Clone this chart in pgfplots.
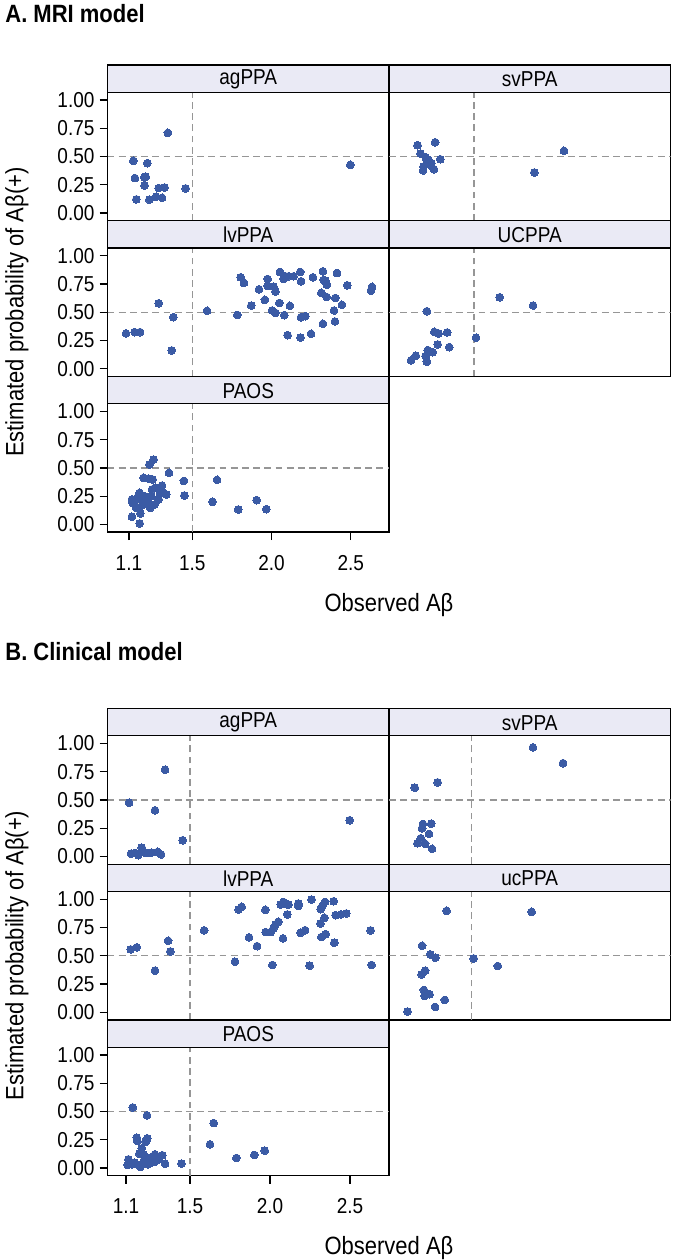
\documentclass[border=0pt]{standalone}
\usepackage{pgfplots}
\pgfplotsset{compat=1.18}
\usepackage{fontspec}
\setmainfont{Liberation Sans}[FakeStretch=0.88]
\definecolor{ptblue}{RGB}{59,91,165}
\definecolor{stripbg}{RGB}{234,234,245}
\definecolor{dashgray}{RGB}{150,150,150}
\newcommand{\tickfont}{\fontsize{10.8}{12}\selectfont}
\newcommand{\labfont}{\fontsize{12.5}{14}\selectfont}
\pgfplotsset{
  panel/.style={
    scale only axis, width=140.75pt, height=64.2pt, anchor=north west,
    ymin=-0.068, ymax=1.068,
    axis line style={line width=0.65pt, black},
    tick style={line width=0.65pt, black},
    major tick length=4pt,
    tick align=outside, tick pos=left,
    xtick=\empty, ytick=\empty,
    ticklabel style={font=\tickfont},
    yticklabel style={xshift=1pt},
  },
  panelA/.style={panel, xmin=0.965, xmax=2.741},
  panelB/.style={panel, xmin=0.984, xmax=2.744},
  yt/.style={ytick={0,0.25,0.5,0.75,1}, yticklabels={0.00,0.25,0.50,0.75,1.00}},
  xt/.style={xtick={1.1,1.5,2,2.5}, xticklabels={1.1,1.5,2.0,2.5},
             xticklabel style={yshift=-4pt}},
  pts/.style={only marks, mark=*, mark size=1.95pt, color=ptblue,
              mark options={fill=ptblue, draw=ptblue, line width=0pt}},
}
\tikzset{refline/.style={dashgray, line width=0.7pt, dash pattern=on 3.4pt off 2.2pt}}
\newcommand{\reflines}{%
  \draw[refline] ({axis cs:1.5,0}|-{rel axis cs:0,0}) -- ({axis cs:1.5,0}|-{rel axis cs:0,1});
  \draw[refline] ({rel axis cs:0,0}|-{axis cs:0,0.5}) -- ({rel axis cs:1,0}|-{axis cs:0,0.5});
}
\newcommand{\strip}[3]{%
  \draw[fill=stripbg, line width=0.65pt] (#1,#2) rectangle ++(140.75pt,-13.65pt);
  \path (#1,#2) ++(70.375pt,-7.1pt) node[font=\tickfont] {#3};
}
\begin{document}
\begin{tikzpicture}
\path[use as bounding box] (0,0) rectangle (336.5pt,-630pt);
% ================= A. MRI model =================
\node[anchor=west, inner sep=0pt, font=\fontsize{12.5}{14}\selectfont\bfseries] at (2.5pt,-6.6pt) {A. MRI model};
% agPPA
\begin{axis}[panelA, yt, at={(53.75pt,-46.15pt)}]
\reflines
\addplot[pts] coordinates {(1.346,0.709)(1.128,0.462)(1.216,0.441)(1.138,0.309)(1.197,0.315)(1.206,0.321)(1.199,0.244)(1.288,0.221)(1.325,0.226)(1.458,0.218)(1.147,0.121)(1.229,0.118)(1.271,0.144)(1.309,0.135)(2.497,0.426)};
\end{axis}
% svPPA
\begin{axis}[panelA, at={(194.5pt,-46.15pt)}]
\reflines
\addplot[pts] coordinates {(1.145,0.600)(1.256,0.626)(1.164,0.526)(1.196,0.494)(1.215,0.470)(1.207,0.459)(1.183,0.412)(1.180,0.376)(1.223,0.426)(1.232,0.441)(1.248,0.388)(1.289,0.476)(1.882,0.359)(2.069,0.550)};
\end{axis}
% lvPPA
\begin{axis}[panelA, yt, at={(53.75pt,-124pt)}]
\reflines
\addplot[pts] coordinates {(1.082,0.312)(1.136,0.324)(1.170,0.324)(1.288,0.579)(1.380,0.456)(1.370,0.162)(1.593,0.512)(1.784,0.476)(1.805,0.809)(1.826,0.759)(1.872,0.559)(1.921,0.703)(1.958,0.609)(1.975,0.794)(1.975,0.732)(2.013,0.726)(2.024,0.682)(2.003,0.515)(2.024,0.494)(2.049,0.582)(2.053,0.856)(2.076,0.794)(2.087,0.818)(2.108,0.818)(2.139,0.818)(2.181,0.856)(2.186,0.774)(2.080,0.474)(2.116,0.556)(2.101,0.297)(2.183,0.276)(2.186,0.456)(2.213,0.465)(2.249,0.309)(2.261,0.809)(2.324,0.862)(2.328,0.785)(2.339,0.779)(2.349,0.744)(2.314,0.671)(2.347,0.635)(2.402,0.626)(2.413,0.847)(2.478,0.738)(2.444,0.565)(2.394,0.515)(2.324,0.397)(2.400,0.418)(2.627,0.691)(2.634,0.724)};
\end{axis}
% UCPPA
\begin{axis}[panelA, at={(194.5pt,-124pt)}]
\reflines
\addplot[pts] coordinates {(1.104,0.074)(1.134,0.115)(1.204,0.509)(1.251,0.326)(1.278,0.312)(1.332,0.321)(1.210,0.165)(1.240,0.147)(1.196,0.112)(1.204,0.062)(1.272,0.215)(1.345,0.191)(1.514,0.274)(1.663,0.632)(1.874,0.559)};
\end{axis}
% PAOS
\begin{axis}[panelA, yt, xt, at={(53.75pt,-201.85pt)}]
\reflines
\addplot[pts] coordinates {(1.256,0.574)(1.229,0.529)(1.353,0.456)(1.193,0.412)(1.224,0.406)(1.250,0.397)(1.447,0.385)(1.656,0.394)(1.450,0.256)(1.628,0.200)(1.790,0.132)(1.906,0.215)(1.967,0.135)(1.119,0.221)(1.123,0.191)(1.119,0.068)(1.168,0.009)(1.172,0.097)(1.145,0.147)(1.168,0.279)(1.151,0.235)(1.193,0.206)(1.214,0.235)(1.235,0.147)(1.246,0.309)(1.267,0.324)(1.288,0.221)(1.296,0.274)(1.309,0.344)(1.309,0.294)(1.336,0.265)(1.262,0.176)(1.182,0.168)(1.220,0.191)(1.199,0.250)(1.241,0.250)(1.136,0.206)};
\end{axis}
\strip{53.75pt}{-32.5pt}{agPPA}
\strip{194.5pt}{-32.5pt}{svPPA}
\strip{53.75pt}{-110.35pt}{lvPPA}
\strip{194.5pt}{-110.35pt}{UCPPA}
\strip{53.75pt}{-188.2pt}{PAOS}
\node[rotate=90, font=\labfont] at (8.5pt,-156pt) {Estimated probability of Aβ(+)};
\node[font=\labfont] at (194.5pt,-302.5pt) {Observed Aβ};
% ================= B. Clinical model =================
\node[anchor=west, inner sep=0pt, font=\fontsize{12.5}{14}\selectfont\bfseries] at (2.5pt,-326pt) {B. Clinical model};
% agPPA
\begin{axis}[panelB, yt, at={(53.75pt,-367.9pt)}]
\reflines
\addplot[pts] coordinates {(1.344,0.768)(1.119,0.476)(1.281,0.409)(1.454,0.144)(2.498,0.321)(1.131,0.026)(1.177,0.012)(1.198,0.079)(1.215,0.035)(1.260,0.035)(1.298,0.041)(1.319,0.018)(1.235,0.032)(1.156,0.032)};
\end{axis}
% svPPA
\begin{axis}[panelB, at={(194.5pt,-367.9pt)}]
\reflines
\addplot[pts] coordinates {(1.145,0.609)(1.288,0.656)(1.196,0.288)(1.248,0.291)(1.191,0.250)(1.234,0.200)(1.183,0.162)(1.162,0.118)(1.210,0.112)(1.253,0.068)(1.884,0.965)(2.072,0.826)};
\end{axis}
% lvPPA
\begin{axis}[panelB, yt, at={(53.75pt,-445.75pt)}]
\reflines
\addplot[pts] coordinates {(1.129,0.556)(1.167,0.574)(1.281,0.368)(1.363,0.632)(1.377,0.538)(1.588,0.724)(1.781,0.447)(1.804,0.909)(1.823,0.932)(1.869,0.662)(1.919,0.585)(1.971,0.906)(1.973,0.709)(2.015,0.418)(2.004,0.709)(2.021,0.741)(2.035,0.776)(2.052,0.800)(2.067,0.953)(2.083,0.976)(2.104,0.956)(2.115,0.953)(2.081,0.653)(2.108,0.865)(2.177,0.962)(2.177,0.941)(2.190,0.703)(2.219,0.726)(2.248,0.412)(2.260,0.997)(2.317,0.912)(2.327,0.941)(2.344,0.976)(2.398,0.982)(2.315,0.785)(2.340,0.835)(2.321,0.665)(2.348,0.691)(2.402,0.615)(2.410,0.859)(2.444,0.865)(2.477,0.874)(2.629,0.724)(2.635,0.418)};
\end{axis}
% ucPPA
\begin{axis}[panelB, at={(194.5pt,-445.75pt)}]
\reflines
\addplot[pts] coordinates {(1.100,0.006)(1.191,0.588)(1.242,0.512)(1.274,0.482)(1.188,0.335)(1.210,0.368)(1.202,0.197)(1.207,0.144)(1.237,0.159)(1.272,0.047)(1.333,0.109)(1.344,0.897)(1.513,0.476)(1.664,0.409)(1.876,0.888)};
\end{axis}
% PAOS
\begin{axis}[panelB, yt, xt, at={(53.75pt,-523.6pt)}]
\reflines
\addplot[pts] coordinates {(1.142,0.535)(1.231,0.465)(1.648,0.397)(1.625,0.209)(1.790,0.088)(1.902,0.115)(1.967,0.153)(1.446,0.038)(1.167,0.268)(1.171,0.238)(1.233,0.262)(1.223,0.232)(1.198,0.174)(1.183,0.126)(1.210,0.121)(1.327,0.112)(1.281,0.121)(1.115,0.076)(1.110,0.026)(1.135,0.032)(1.167,0.032)(1.188,0.009)(1.208,0.044)(1.235,0.032)(1.258,0.047)(1.281,0.056)(1.306,0.076)(1.344,0.038)(1.254,0.091)(1.152,0.047)(1.215,0.076)};
\end{axis}
\strip{53.75pt}{-354.25pt}{agPPA}
\strip{194.5pt}{-354.25pt}{svPPA}
\strip{53.75pt}{-432.1pt}{lvPPA}
\strip{194.5pt}{-432.1pt}{ucPPA}
\strip{53.75pt}{-509.95pt}{PAOS}
\node[rotate=90, font=\labfont] at (8.5pt,-477.75pt) {Estimated probability of Aβ(+)};
\node[font=\labfont] at (194.5pt,-624pt) {Observed Aβ};
\end{tikzpicture}
\end{document}
